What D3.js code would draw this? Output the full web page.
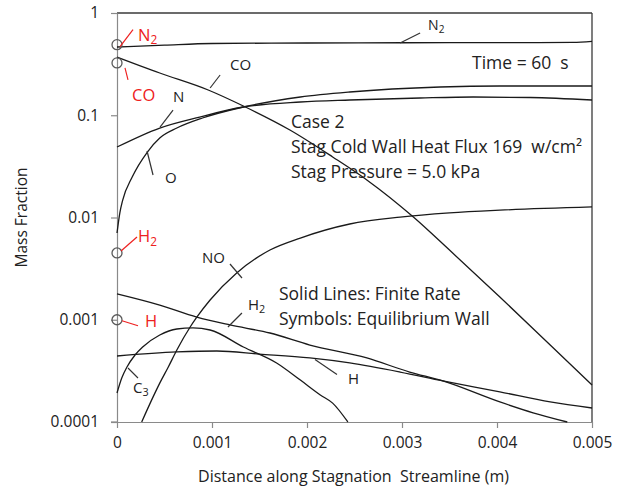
<!DOCTYPE html>
<html>
<head>
<meta charset="utf-8">
<script src="https://cdn.jsdelivr.net/npm/d3@7"></script>
<style>
  html, body { margin: 0; padding: 0; background: #fff; }
  svg text { font-family: "Open Sans", "Noto Sans", sans-serif; fill: #222; white-space: pre; }
</style>
</head>
<body>
<svg id="chart" width="630" height="490"></svg>
<script>
// ---------- axis ticks ----------
const xTicks = [0, 0.001, 0.002, 0.003, 0.004, 0.005];
const xTickLabels = ["0", "0.001", "0.002", "0.003", "0.004", "0.005"];
const yTicks = [0.0001, 0.001, 0.01, 0.1, 1];
const yTickLabels = ["0.0001", "0.001", "0.01", "0.1", "1"];

// ---------- finite-rate solution (solid lines) ----------
const n2X = [0, 0.0005, 0.001, 0.002, 0.003, 0.004, 0.0048, 0.005];
const n2Y = [0.465, 0.485, 0.503, 0.509, 0.512, 0.513, 0.515, 0.527];

const coX = [0, 0.00045, 0.00096, 0.00133, 0.00182, 0.00227, 0.00263, 0.00312, 0.0035, 0.00403, 0.00456, 0.005];
const coY = [0.371, 0.259, 0.1766, 0.1231, 0.0717, 0.0391, 0.0233, 0.0101, 0.0048, 0.00167, 0.000566, 0.00023];

const nX = [0, 0.00045, 0.00087, 0.00133, 0.00193, 0.00245, 0.00319, 0.00375, 0.00435, 0.005];
const nY = [0.0489, 0.075, 0.0961, 0.1204, 0.1348, 0.141, 0.1475, 0.1508, 0.1491, 0.141];

const oX = [0, 0.00003, 0.00006, 0.00016, 0.00032, 0.00045, 0.00063, 0.0009, 0.00133, 0.00193, 0.00245, 0.0034, 0.00403, 0.005];
const oY = [0.00705, 0.0111, 0.0148, 0.0249, 0.0437, 0.0599, 0.075, 0.094, 0.1204, 0.1508, 0.1688, 0.1889, 0.1932, 0.1932];

const noX = [0.00026, 0.00038, 0.00045, 0.00054, 0.00063, 0.00077, 0.00084, 0.00098, 0.00126, 0.00161, 0.00193, 0.00245, 0.00298, 0.0035, 0.00403, 0.005];
const noY = [0.0001, 0.000176, 0.00024, 0.000345, 0.000506, 0.000849, 0.00106, 0.00156, 0.00287, 0.00481, 0.0063, 0.00864, 0.0101, 0.0111, 0.0118, 0.0127];

const h2X = [0, 0.00045, 0.00084, 0.00119, 0.00161, 0.00203, 0.00263, 0.00308, 0.00343, 0.00403, 0.00438, 0.00474];
const h2Y = [0.00179, 0.00139, 0.00106, 0.000889, 0.000742, 0.000566, 0.000423, 0.000308, 0.000252, 0.000157, 0.000123, 0.0001];

const hX = [0, 0.00063, 0.00105, 0.0015, 0.00203, 0.00245, 0.00298, 0.00343, 0.00403, 0.00456, 0.005];
const hY = [0.000442, 0.000484, 0.000495, 0.000462, 0.000423, 0.000378, 0.000308, 0.000252, 0.000197, 0.000157, 0.000137];

const c3X = [0, 0.00005, 0.000105, 0.00019, 0.00027, 0.00045, 0.00063, 0.0008, 0.00098, 0.00133, 0.00168, 0.00193, 0.00214, 0.00227, 0.00243];
const c3Y = [0.000192, 0.000269, 0.000345, 0.000452, 0.000541, 0.000709, 0.000812, 0.000831, 0.000794, 0.000541, 0.000378, 0.000257, 0.000184, 0.000153, 0.0001];

// ---------- equilibrium wall values (symbols) ----------
const eqSpecies = ["N2", "CO", "H2", "H"];
const eqX = [0, 0, 0, 0];
const eqY = [0.49, 0.325, 0.0045, 0.001];

// ---------- layout ----------
const svg = d3.select("#chart");
const margin = { left: 117, top: 13, right: 38, bottom: 68 };
const W = 630, H = 490;
const x = d3.scaleLinear().domain([0, 0.005]).range([margin.left, W - margin.right]);
const y = d3.scaleLog().domain([0.0001, 1]).range([H - margin.bottom, margin.top]);

const axisColor = "#8a8a8a";
const frameColor = "#3a3a3a";
const red = "#ee2020";

// frame (top + right)
svg.append("line").attr("x1", x(0)).attr("x2", x(0.005)).attr("y1", y(1)).attr("y2", y(1))
  .attr("stroke", frameColor).attr("stroke-width", 1.3);
svg.append("line").attr("x1", x(0.005)).attr("x2", x(0.005)).attr("y1", y(1)).attr("y2", y(0.0001))
  .attr("stroke", frameColor).attr("stroke-width", 1.3);

// axes
const xAxis = d3.axisBottom(x).tickValues(xTicks).tickFormat((d, i) => xTickLabels[i]).tickSize(6).tickSizeOuter(0).tickPadding(9);
const gx = svg.append("g").attr("transform", `translate(0,${y(0.0001)})`).call(xAxis);
const yAxis = d3.axisLeft(y).tickValues(yTicks).tickFormat((d, i) => yTickLabels[i]).tickSize(6).tickSizeOuter(0).tickPadding(12);
const gy = svg.append("g").attr("transform", `translate(${x(0)},0)`).call(yAxis);
[gx, gy].forEach(g => {
  g.select(".domain").attr("stroke", axisColor).attr("stroke-width", 1.2);
  g.selectAll(".tick line").attr("stroke", axisColor).attr("stroke-width", 1.2);
  g.selectAll(".tick text").attr("fill", "#222").style("font-size", "15.5px")
    .style("font-family", '"Open Sans", sans-serif');
});
// extend x-axis slightly left like the reference
svg.append("line").attr("x1", x(0) - 6).attr("x2", x(0)).attr("y1", y(0.0001)).attr("y2", y(0.0001))
  .attr("stroke", axisColor).attr("stroke-width", 1.2);

// axis titles
svg.append("text").attr("x", (x(0) + x(0.005)) / 2 - 1).attr("y", 482)
  .attr("text-anchor", "middle").style("font-size", "16px")
  .text("Distance along Stagnation  Streamline (m)");
svg.append("text").attr("transform", `translate(27,${(y(1) + y(0.0001)) / 2}) rotate(-90)`)
  .attr("text-anchor", "middle").style("font-size", "15.5px").text("Mass Fraction");

// ---------- curves ----------
const series = [
  { name: "N2", xs: n2X, ys: n2Y },
  { name: "CO", xs: coX, ys: coY },
  { name: "N", xs: nX, ys: nY },
  { name: "O", xs: oX, ys: oY },
  { name: "NO", xs: noX, ys: noY },
  { name: "H2", xs: h2X, ys: h2Y },
  { name: "H", xs: hX, ys: hY },
  { name: "C3", xs: c3X, ys: c3Y }
];
const line = d3.line().x(d => x(d[0])).y(d => y(d[1])).curve(d3.curveMonotoneX);
const plot = svg.append("g");
series.forEach(s => {
  const pts = s.xs.map((v, i) => [v, s.ys[i]]);
  plot.append("path").attr("d", line(pts)).attr("fill", "none")
    .attr("stroke", "#1a1a1a").attr("stroke-width", 1.3);
});

// ---------- equilibrium symbols ----------
eqSpecies.forEach((s, i) => {
  svg.append("circle").attr("cx", x(eqX[i])).attr("cy", y(eqY[i])).attr("r", 5)
    .attr("fill", "none").attr("stroke", "#5a5a5a").attr("stroke-width", 1.3);
});

// ---------- species labels with leaders ----------
// anchor in data units; leader and label offsets in px
function speciesLabel(ax, ay, l1, l2, t, base, sub, color, fs) {
  const px = x(ax), py = y(ay);
  svg.append("line").attr("x1", px + l1[0]).attr("y1", py + l1[1])
    .attr("x2", px + l2[0]).attr("y2", py + l2[1])
    .attr("stroke", color === "#222" ? "#333" : color).attr("stroke-width", 1.2);
  const tx = svg.append("text").attr("x", px + t[0]).attr("y", py + t[1])
    .style("font-size", fs + "px").attr("fill", color).style("fill", color);
  tx.append("tspan").text(base);
  if (sub) tx.append("tspan").attr("dy", fs * 0.22).style("font-size", (fs * 0.72) + "px").text(sub);
}
const blk = "#222";
speciesLabel(0.00298, 0.509, [0, 0], [20, -10], [28, -13], "N", "2", blk, 14);
speciesLabel(0.00098, 0.1847, [0, 0], [10, -13], [20, -18], "CO", null, blk, 15);
speciesLabel(0.000453, 0.0767, [0, 0], [13, -17], [13, -25], "N", null, blk, 15);
speciesLabel(0.000316, 0.0447, [0, 0], [6, 24], [18, 32], "O", null, blk, 15);
speciesLabel(0.001263, 0.002866, [-7, -9], [5, 5], [-35, -10], "NO", null, blk, 15);
speciesLabel(0.001189, 0.000889, [-2, 2], [12, -12], [18, -15], "H", "2", blk, 15);
speciesLabel(0.002084, 0.000418, [0, 1], [22, 16], [33, 26], "H", null, blk, 15);
speciesLabel(0.000105, 0.000345, [1, 1], [11, 11], [6, 26], "C", "3", blk, 15);

speciesLabel(0, 0.49, [3, 2], [16, -15], [21, -4], "N", "2", red, 16.5);
speciesLabel(0, 0.325, [8, 5], [11, 17], [15, 38], "CO", null, red, 16.5);
speciesLabel(0, 0.0045, [4, -2], [20, -16], [21, -11], "H", "2", red, 16.5);
speciesLabel(0, 0.001, [5, 1], [21, 6], [28, 7], "H", null, red, 16.5);

// ---------- annotations ----------
const notes = [
  { t: "Time = 60  s", x: 472, y: 69 },
  { t: "Case 2", x: 291, y: 128 },
  { t: "Stag Cold Wall Heat Flux 169  w/cm\u00B2", x: 291, y: 153 },
  { t: "Stag Pressure = 5.0 kPa", x: 291, y: 178 },
  { t: "Solid Lines: Finite Rate", x: 279, y: 300 },
  { t: "Symbols: Equilibrium Wall", x: 279, y: 325 }
];
notes.forEach(n => {
  svg.append("text").attr("x", n.x).attr("y", n.y).style("font-size", "17.5px").text(n.t);
});
</script>
</body>
</html>
